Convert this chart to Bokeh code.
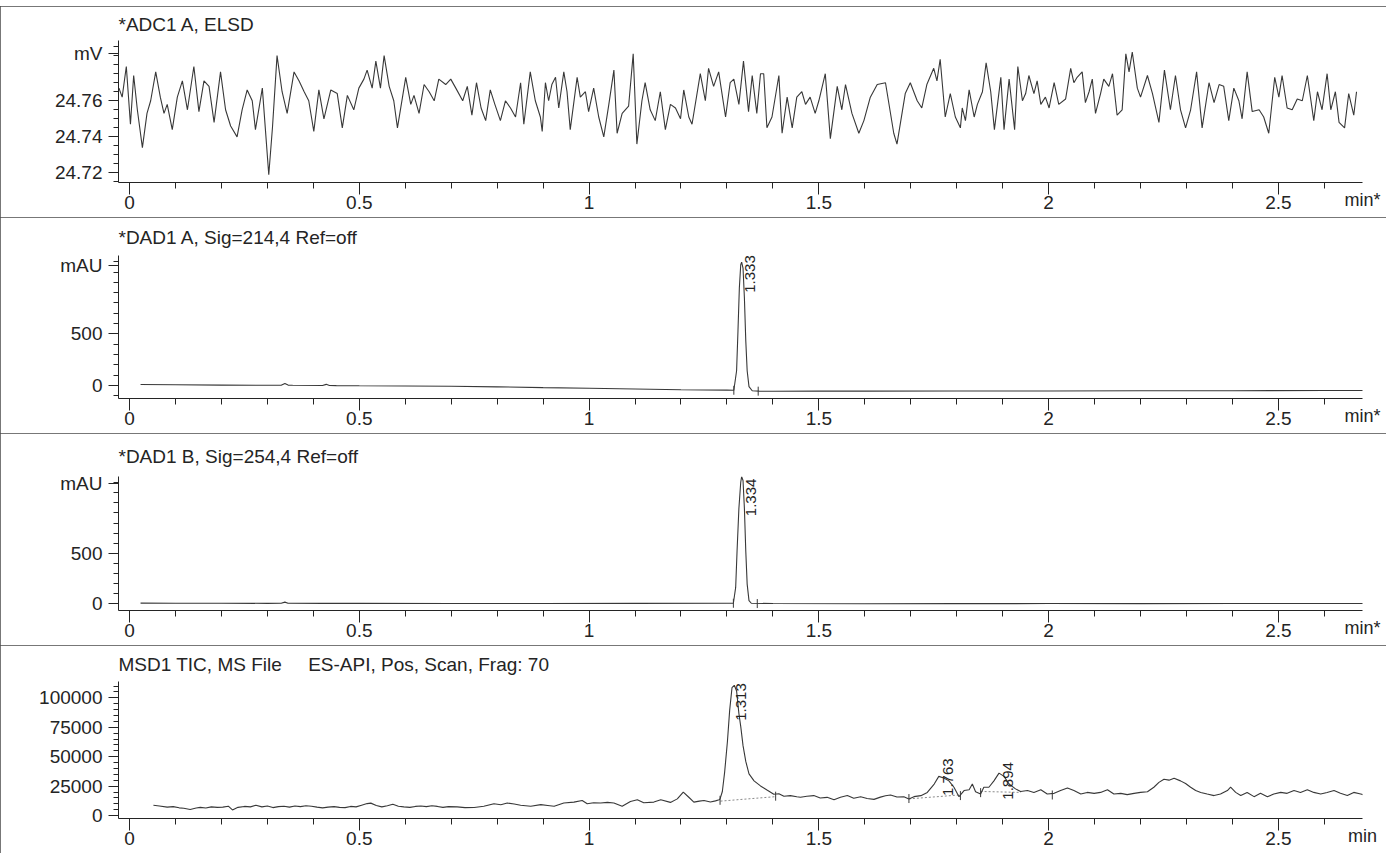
import numpy as np
from bokeh.plotting import figure
from bokeh.layouts import column
from bokeh.models import FixedTicker, Range1d, Label, LabelSet, ColumnDataSource
from bokeh.core.properties import value
from bokeh.embed import file_html
from bokeh.resources import INLINE

# ------------------------------------------------------------------ data
x_major = [0, 0.5, 1, 1.5, 2, 2.5]
x_major_labels = ["0", "0.5", "1", "1.5", "2", "2.5"]
x_minor = [0.0, 0.1, 0.2, 0.3, 0.4, 0.5, 0.6, 0.7, 0.8, 0.9, 1.0, 1.1, 1.2, 1.3, 1.4,
           1.5, 1.6, 1.7, 1.8, 1.9, 2.0, 2.1, 2.2, 2.3, 2.4, 2.5, 2.6, 2.7]

# ELSD trace (mV)
elsd_t = [-0.030, -0.023, -0.016, -0.007, 0.002, 0.009, 0.017, 0.028, 0.038, 0.046,
          0.057, 0.067, 0.075, 0.082, 0.093, 0.104, 0.115, 0.126, 0.140, 0.151,
          0.162, 0.173, 0.184, 0.198, 0.209, 0.220, 0.234, 0.245, 0.256, 0.267,
          0.274, 0.289, 0.303, 0.311, 0.321, 0.332, 0.343, 0.358, 0.369, 0.380,
          0.390, 0.401, 0.412, 0.423, 0.438, 0.452, 0.463, 0.474, 0.488, 0.499,
          0.510, 0.517, 0.528, 0.536, 0.546, 0.554, 0.565, 0.575, 0.583, 0.594,
          0.601, 0.612, 0.619, 0.630, 0.641, 0.652, 0.663, 0.673, 0.688, 0.699,
          0.710, 0.725, 0.735, 0.745, 0.755, 0.765, 0.775, 0.785, 0.795,
          0.807, 0.818, 0.829, 0.840, 0.851, 0.858, 0.872, 0.883, 0.894, 0.898,
          0.905, 0.912, 0.919, 0.927, 0.934, 0.945, 0.952, 0.959, 0.974, 0.981,
          0.992, 0.999, 1.010, 1.021, 1.032, 1.043, 1.054, 1.061, 1.072, 1.086,
          1.096, 1.104, 1.115, 1.122, 1.133, 1.144, 1.155, 1.166, 1.177, 1.188,
          1.199, 1.206, 1.217, 1.224, 1.242, 1.253, 1.260, 1.271, 1.282, 1.297,
          1.307, 1.315, 1.326, 1.336, 1.347, 1.355, 1.365, 1.373, 1.380, 1.387,
          1.398, 1.413, 1.420, 1.431, 1.442, 1.452, 1.463, 1.471, 1.481, 1.492,
          1.500, 1.514, 1.525, 1.540, 1.550, 1.558, 1.572, 1.587, 1.598, 1.612,
          1.627, 1.645, 1.663, 1.670, 1.688, 1.699, 1.714, 1.724, 1.735, 1.750,
          1.757, 1.764, 1.775, 1.786, 1.797, 1.808,
          1.812, 1.819, 1.827, 1.838, 1.845, 1.856, 1.864, 1.874, 1.882, 1.896,
          1.903, 1.914, 1.926, 1.933, 1.943, 1.950, 1.957, 1.968, 1.975, 1.983,
          1.993, 2.001, 2.012, 2.022, 2.037, 2.048, 2.055, 2.062, 2.073, 2.080,
          2.088, 2.095, 2.102, 2.113, 2.120, 2.131, 2.139, 2.149, 2.160, 2.168,
          2.175, 2.182, 2.193, 2.200, 2.215, 2.226, 2.240, 2.252, 2.265, 2.276,
          2.287, 2.298, 2.309, 2.322, 2.334, 2.349, 2.360, 2.371, 2.381, 2.392,
          2.403, 2.414, 2.421, 2.432, 2.443, 2.458, 2.468, 2.479, 2.492, 2.501,
          2.508, 2.519, 2.530, 2.541, 2.552, 2.563, 2.577, 2.585, 2.595, 2.606,
          2.614, 2.624, 2.632, 2.644, 2.653, 2.664, 2.670]
elsd_mv = [24.760, 24.767, 24.762, 24.779, 24.747, 24.774, 24.755, 24.734, 24.753, 24.760,
           24.776, 24.762, 24.753, 24.758, 24.744, 24.762, 24.771, 24.755, 24.779, 24.754,
           24.771, 24.768, 24.748, 24.776, 24.755, 24.746, 24.740, 24.755, 24.766, 24.760,
           24.744, 24.767, 24.719, 24.745, 24.785, 24.765, 24.753, 24.776, 24.771, 24.765,
           24.760, 24.743, 24.766, 24.750, 24.766, 24.764, 24.745, 24.763, 24.755, 24.767,
           24.772, 24.777, 24.767, 24.782, 24.767, 24.785, 24.768, 24.760, 24.745, 24.762,
           24.773, 24.758, 24.763, 24.753, 24.769, 24.765, 24.760, 24.772, 24.769, 24.772,
           24.767, 24.760, 24.768, 24.752, 24.770, 24.756, 24.749, 24.766, 24.758,
           24.749, 24.760, 24.756, 24.751, 24.770, 24.747, 24.776, 24.760, 24.751, 24.743,
           24.770, 24.760, 24.769, 24.773, 24.756, 24.776, 24.765, 24.744, 24.773, 24.762,
           24.765, 24.754, 24.767, 24.751, 24.740, 24.758, 24.777, 24.742, 24.753, 24.757,
           24.786, 24.736, 24.760, 24.770, 24.755, 24.749, 24.765, 24.744, 24.758, 24.756,
           24.750, 24.766, 24.751, 24.747, 24.775, 24.760, 24.778, 24.768, 24.776, 24.751,
           24.770, 24.772, 24.758, 24.782, 24.754, 24.774, 24.753, 24.775, 24.775, 24.745,
           24.751, 24.774, 24.742, 24.762, 24.745, 24.762, 24.765, 24.758, 24.762, 24.753,
           24.760, 24.775, 24.739, 24.768, 24.755, 24.769, 24.753, 24.742, 24.749, 24.762,
           24.769, 24.770, 24.742, 24.736, 24.764, 24.770, 24.760, 24.756, 24.769, 24.778,
           24.771, 24.783, 24.751, 24.764, 24.751, 24.745,
           24.756, 24.749, 24.766, 24.751, 24.758, 24.765, 24.781, 24.765, 24.744, 24.773,
           24.744, 24.772, 24.744, 24.779, 24.760, 24.764, 24.774, 24.764, 24.771, 24.758,
           24.762, 24.756, 24.770, 24.758, 24.761, 24.778, 24.770, 24.773, 24.776, 24.759,
           24.765, 24.772, 24.753, 24.764, 24.772, 24.768, 24.775, 24.752, 24.755, 24.786,
           24.776, 24.787, 24.767, 24.762, 24.774, 24.764, 24.748, 24.777, 24.755, 24.774,
           24.755, 24.745, 24.755, 24.776, 24.745, 24.770, 24.759, 24.769, 24.768, 24.749,
           24.767, 24.760, 24.750, 24.776, 24.754, 24.755, 24.751, 24.742, 24.773, 24.762,
           24.774, 24.756, 24.755, 24.761, 24.760, 24.774, 24.749, 24.765, 24.755, 24.775,
           24.755, 24.765, 24.748, 24.745, 24.764, 24.752, 24.765]

# DAD1 A, 214 nm (mAU)
dad_a_t = [0.024, 0.10, 0.20, 0.30, 0.330, 0.338, 0.345, 0.355, 0.42, 0.428,
           0.435, 0.45, 0.50, 0.60, 0.70, 0.80, 0.90, 1.00, 1.10, 1.20,
           1.30, 1.315, 1.321, 1.324, 1.327, 1.330, 1.332, 1.335, 1.338, 1.341,
           1.344, 1.348, 1.355, 1.37, 1.40, 1.50, 1.60, 1.80, 2.00, 2.20,
           2.40, 2.60, 2.70]
dad_a_mau = [10, 8, 5, 3, 4, 20, 5, 3, 1, 12,
             1, 0, -2, -4, -6, -12, -20, -26, -33, -40,
             -44, -45, 144, 529, 946, 1170, 1195, 1138, 849, 433,
             144, -10, -50, -54, -55, -54, -54, -52, -52, -50,
             -50, -48, -48]

# DAD1 B, 254 nm (mAU)
dad_b_t = [0.024, 0.10, 0.20, 0.30, 0.330, 0.338, 0.345, 0.42, 0.50, 0.70,
           0.90, 1.10, 1.30, 1.314, 1.319, 1.322, 1.326, 1.330, 1.332, 1.335,
           1.338, 1.341, 1.344, 1.348, 1.353, 1.40, 1.60, 1.80, 2.00, 2.20,
           2.40, 2.60, 2.70]
dad_b_mau = [4, 3, 3, 2, 3, 14, 3, 2, 2, 1,
             1, 2, 3, 3, 160, 519, 944, 1205, 1261, 1222,
             944, 519, 193, 29, 3, 0, -2, -1, 0, -1,
             0, 1, 0]

# MSD1 TIC (counts)
tic_t = [0.052, 0.065, 0.082, 0.095, 0.108, 0.118, 0.132, 0.145, 0.154, 0.166,
         0.178, 0.191, 0.203, 0.215, 0.224, 0.236, 0.250, 0.263, 0.275, 0.288,
         0.300, 0.312, 0.324, 0.336, 0.348, 0.360, 0.372, 0.384, 0.396, 0.408,
         0.420, 0.432, 0.445, 0.457, 0.469, 0.481, 0.493, 0.505, 0.517, 0.525,
         0.537, 0.549, 0.561, 0.573, 0.585, 0.597, 0.610, 0.622, 0.634, 0.646,
         0.658, 0.670, 0.682, 0.694,
         0.713, 0.730, 0.750, 0.771, 0.793, 0.808, 0.822, 0.837, 0.851, 0.873,
         0.895, 0.910, 0.924, 0.945, 0.967, 0.985, 0.996, 1.010, 1.025, 1.040,
         1.054, 1.072, 1.090, 1.105, 1.119, 1.141, 1.156, 1.177, 1.192, 1.205,
         1.217, 1.228, 1.240, 1.250, 1.264, 1.275, 1.283,
         1.285, 1.290, 1.295, 1.301, 1.306, 1.311, 1.316, 1.321, 1.326, 1.330,
         1.335, 1.341, 1.348, 1.359, 1.373, 1.388, 1.402, 1.413, 1.424, 1.438,
         1.452, 1.460, 1.474, 1.489, 1.503, 1.518, 1.533, 1.547, 1.562, 1.576,
         1.591, 1.605, 1.620, 1.634, 1.645, 1.656, 1.670, 1.685, 1.696,
         1.707, 1.722, 1.736, 1.751, 1.761, 1.772, 1.783, 1.794, 1.805, 1.816,
         1.827, 1.834, 1.841, 1.852, 1.859, 1.870, 1.881, 1.892, 1.903, 1.914,
         1.928, 1.939, 1.954, 1.968, 1.983, 1.997, 2.012, 2.026, 2.041, 2.055,
         2.070, 2.084, 2.099, 2.113, 2.128, 2.142, 2.157, 2.171, 2.186, 2.200,
         2.215, 2.229, 2.240, 2.251, 2.262, 2.273, 2.287, 2.298, 2.309, 2.320,
         2.331, 2.345, 2.360, 2.374, 2.389, 2.396, 2.407, 2.418, 2.432, 2.447,
         2.461, 2.476, 2.490, 2.505, 2.519, 2.534, 2.548, 2.563, 2.577, 2.592,
         2.606, 2.621, 2.635, 2.650, 2.664, 2.679, 2.693]
tic_counts = [8800, 8200, 7200, 7600, 6600, 6200, 5200, 6400, 7000, 6400,
              7400, 7000, 7200, 8000, 4800, 7000, 7800, 7400, 8800, 7400,
              8200, 6800, 7600, 8000, 7200, 8200, 7600, 8400, 8000, 7200,
              6600, 7200, 7600, 7000, 6800, 7800, 7400, 8800, 10200, 10600,
              8600, 7400, 8400, 9600, 8000, 7400, 7000, 7800, 8200, 7600,
              8400, 7800, 7000, 7600,
              7380, 6800, 6830, 7920, 10100, 9200, 10660, 9800, 8750, 7920,
              9290, 8600, 7920, 10660, 11480, 12850, 10100, 10900, 10660, 11200,
              10660, 7920, 12030, 13400, 10930, 11480, 13400, 11210, 14210, 20000,
              15580, 11480, 12300, 12850, 11480, 12500, 13400,
              14200, 20500, 36900, 62700, 89800, 108600, 110700, 105800, 86700, 75800,
              59400, 46000, 35500, 29500, 25200, 21500, 18200, 18600, 16400, 17000,
              16000, 15600, 16500, 17000, 15000, 15500, 13400, 15600, 17000, 14700,
              16000, 14500, 13800, 15700, 16900, 17500, 15800, 16000, 14200,
              16100, 16960, 19700, 26800, 33300, 32000, 29500, 24100, 16100, 21300,
              21900, 26800, 20200, 18300, 24100, 24100, 29500, 36100, 33300, 26800,
              22700, 20500, 21300, 19700, 21900, 18300, 18900, 21300, 23500, 21300,
              18300, 19700, 18900, 19700, 21900, 18300, 18900, 17800, 18900, 19700,
              20200, 24100, 28200, 30900, 30100, 31700, 29500, 27300, 24100, 21300,
              19700, 18300, 17000, 18300, 21300, 24100, 19700, 17000, 19700, 16100,
              18900, 16100, 18300, 19700, 18900, 21300, 19700, 21900, 19700, 18300,
              19700, 21300, 18900, 17000, 19700, 18300, 17000]

# integrated peaks: retention time, apex height, label
dad_a_rt = [1.333]
dad_a_apex = [1195]
dad_a_lbl = ["1.333"]
dad_b_rt = [1.334]
dad_b_apex = [1261]
dad_b_lbl = ["1.334"]
tic_rt = [1.313, 1.763, 1.894]
tic_apex = [110700, 33300, 36100]
tic_lbl = ["1.313", "1.763", "1.894"]

# peak start / end marks and integration baselines
dad_a_marks_t = [1.315, 1.368]
dad_a_marks_v = [-45, -54]
dad_b_marks_t = [1.314, 1.366]
dad_b_marks_v = [3, 0]
tic_marks_t = [1.285, 1.406, 1.696, 1.808, 1.852, 2.008]
tic_marks_v = [13000, 16500, 14500, 17000, 19500, 17500]
tic_base_t0 = [1.286, 1.696, 1.852]
tic_base_v0 = [12300, 14200, 20500]
tic_base_t1 = [1.406, 1.805, 1.940]
tic_base_v1 = [16100, 17500, 19700]

# axis ticks
elsd_yt = [24.72, 24.74, 24.76, 24.786]
elsd_ytl = ["24.72", "24.74", "24.76", "mV"]
elsd_ymin = [24.715, 24.72, 24.725, 24.73, 24.735, 24.74, 24.745, 24.75, 24.755,
             24.76, 24.765, 24.77, 24.775, 24.78, 24.785, 24.79]
dad_a_yt = [0, 500, 1160]
dad_a_ytl = ["0", "500", "mAU"]
dad_a_ymin = [-100, 0, 100, 200, 300, 400, 500, 600, 700, 800, 900, 1000, 1100, 1200]
dad_b_yt = [0, 500, 1196]
dad_b_ytl = ["0", "500", "mAU"]
dad_b_ymin = [0, 100, 200, 300, 400, 500, 600, 700, 800, 900, 1000, 1100, 1200]
tic_yt = [0, 25000, 50000, 75000, 100000]
tic_ytl = ["0", "25000", "50000", "75000", "100000"]
tic_ymin = [0, 5000, 10000, 15000, 20000, 25000, 30000, 35000, 40000, 45000, 50000,
            55000, 60000, 65000, 70000, 75000, 80000, 85000, 90000, 95000, 100000,
            105000, 110000]

header_text = "Mass Range:110-1000"
NB = "\u00a0"
titles = ["*ADC1 A, ELSD",
          "*DAD1 A, Sig=214,4 Ref=off",
          "*DAD1 B, Sig=254,4 Ref=off",
          "MSD1 TIC, MS File" + NB * 5 + "ES-API, Pos, Scan, Frag: 70"]

# ------------------------------------------------------------------ style
FONT = "Liberation Sans"
INK = "#242424"
TRACE = "#383838"
W = 1386
HEAD_H = 6
X_END = 2.683


def make_panel(h, btop, bbot, y0, y1, yt, ytl, ymin, title, unit_x, standoff):
    p = figure(width=W, height=h, x_range=Range1d(-0.024, X_END), y_range=Range1d(y0, y1),
               output_backend="svg", toolbar_location=None,
               min_border_left=118, min_border_right=24,
               min_border_top=btop, min_border_bottom=bbot,
               background_fill_color="white", border_fill_color="white",
               styles={"outline": "1px solid #4a4a4a", "outline-offset": "-1px"})
    p.outline_line_color = None
    p.xgrid.visible = False
    p.ygrid.visible = False
    p.title.text = title
    p.title.align = "left"
    p.title.vertical_align = "bottom"
    p.title.offset = 0
    p.title.standoff = standoff
    p.title.text_font = FONT
    p.title.text_font_size = "19px"
    p.title.text_font_style = "normal"
    p.title.text_color = INK
    xa = p.xaxis[0]
    ya = p.yaxis[0]
    xa.ticker = FixedTicker(ticks=x_major, minor_ticks=x_minor)
    xa.major_label_overrides = dict(zip(x_major, x_major_labels))
    ya.ticker = FixedTicker(ticks=yt, minor_ticks=ymin)
    ya.major_label_overrides = dict(zip(yt, ytl))
    for ax in (xa, ya):
        ax.axis_line_color = INK
        ax.major_tick_line_color = INK
        ax.minor_tick_line_color = INK
        ax.major_label_text_font = FONT
        ax.major_label_text_font_size = "19px"
        ax.major_label_text_color = INK
        ax.major_tick_in = 0
        ax.minor_tick_in = 0
    xa.major_tick_out = 12
    xa.minor_tick_out = 6
    xa.major_label_standoff = 1
    ya.major_tick_out = 10
    ya.minor_tick_out = 5
    ya.major_label_standoff = 6
    # unit at the right end of the time axis, on the tick-label row
    xa.axis_label = unit_x
    xa.axis_label_text_font = FONT
    xa.axis_label_text_font_size = "18px"
    xa.axis_label_text_font_style = "normal"
    xa.axis_label_text_color = INK
    xa.axis_label_standoff = -22
    xa.axis_label_align = "end"
    return p


def peak_labels(p, rt, apex, lbl, yoff):
    src = ColumnDataSource(dict(x=rt, y=apex, t=lbl, yo=yoff))
    p.add_layout(LabelSet(x="x", y="y", text="t", source=src, angle=90, angle_units="deg",
                          x_offset=3, y_offset="yo", text_align="right", text_baseline="top",
                          text_font=value(FONT), text_font_size=value("15px"),
                          text_color=INK))


# Header strip (only the lower edge of the header line is visible, as on the page)
p0 = figure(width=W, height=HEAD_H, x_range=Range1d(0, W), y_range=Range1d(0, HEAD_H),
            output_backend="svg", toolbar_location=None, title=None,
            x_axis_location=None, y_axis_location=None,
            min_border_left=0, min_border_right=0, min_border_top=0, min_border_bottom=0,
            background_fill_color="white", border_fill_color="white")
p0.grid.visible = False
p0.outline_line_color = None
p0.add_layout(Label(x=228, y=HEAD_H, y_offset=-5.5, text=header_text,
                    text_baseline="alphabetic",
                    text_font=FONT, text_font_size="20px", text_font_style="bold",
                    text_color=INK))

# Panel 1: ELSD
p1 = make_panel(211, 33, 35, 24.7147, 24.7934, elsd_yt, elsd_ytl, elsd_ymin,
                titles[0], "min*", 11)
p1.line(elsd_t, elsd_mv, line_color=TRACE, line_width=1.1)

# Panel 2: DAD A
p2 = make_panel(216, 37, 35, -125, 1260, dad_a_yt, dad_a_ytl, dad_a_ymin,
                titles[1], "min*", 15)
p2.line(dad_a_t, dad_a_mau, line_color=TRACE, line_width=1.1)
p2.scatter(dad_a_marks_t, dad_a_marks_v, marker="dash", angle=np.pi / 2, size=9,
           line_color=TRACE, line_width=1)
peak_labels(p2, dad_a_rt, dad_a_apex, dad_a_lbl, [7])

# Panel 3: DAD B
p3 = make_panel(212, 42, 35, -69, 1262, dad_b_yt, dad_b_ytl, dad_b_ymin,
                titles[2], "min*", 20)
p3.line(dad_b_t, dad_b_mau, line_color=TRACE, line_width=1.1)
p3.scatter(dad_b_marks_t, dad_b_marks_v, marker="dash", angle=np.pi / 2, size=9,
           line_color=TRACE, line_width=1)
peak_labels(p3, dad_b_rt, dad_b_apex, dad_b_lbl, [-2])

# Panel 4: TIC
p4 = make_panel(208, 35, 35, -2460, 113900, tic_yt, tic_ytl, tic_ymin,
                titles[3], "min", 13)
p4.segment(tic_base_t0, tic_base_v0, tic_base_t1, tic_base_v1, line_color="#8a8a8a",
           line_width=1, line_dash="2 2")
p4.line(tic_t, tic_counts, line_color=TRACE, line_width=1.1)
p4.scatter(tic_marks_t, tic_marks_v, marker="dash", angle=np.pi / 2, size=9,
           line_color=TRACE, line_width=1)
peak_labels(p4, tic_rt, tic_apex, tic_lbl, [2, 18, 11])

layout = column(p0, p1, p2, p3, p4, spacing=0)
open("out.html", "w").write(file_html(layout, INLINE))
